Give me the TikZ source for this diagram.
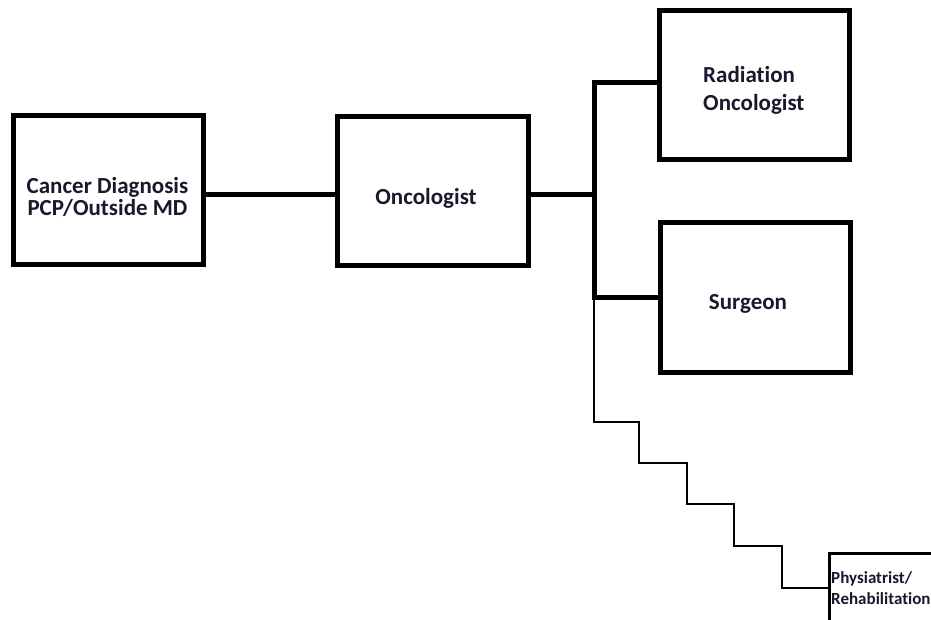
\documentclass[tikz,border=0pt]{standalone}
\usepackage{fontspec}
\setmainfont{Carlito}[Ligatures={NoCommon}]
\definecolor{txt}{RGB}{25,25,45}
\begin{document}
\begin{tikzpicture}[x=1pt,y=-1pt,
  box/.style={draw=black, line width=5pt, inner sep=0pt, outer sep=0pt, rectangle},
  smallbox/.style={draw=black, line width=3pt, inner sep=0pt, outer sep=0pt, rectangle},
  thickconn/.style={draw=black, line width=5pt, line join=miter},
  thinconn/.style={draw=black, line width=2.5pt, line join=miter},
  lbl/.style={font=\bfseries\fontsize{23}{22}\selectfont, text=txt, inner sep=0pt},
  smalllbl/.style={font=\bfseries\fontsize{17}{21}\selectfont, text=txt, inner sep=0pt, align=left},
]
\useasboundingbox (0,0) rectangle (931,620);
\fill[white] (0,0) rectangle (931,620);
\clip (0,0) rectangle (931,620);

% boxes
\node[box, minimum width=189.5pt, minimum height=148.5pt] (A) at (108.25,190.25) {};
\node[box, minimum width=191pt, minimum height=148.5pt] (B) at (432.5,191.25) {};
\node[box, minimum width=190pt, minimum height=149pt] (R) at (754,85.5) {};
\node[box, minimum width=190.5pt, minimum height=149.5pt] (S) at (755.25,297.75) {};
\node[smallbox, minimum width=130pt, minimum height=100pt, anchor=north west] (P) at (829.5,553) {};

% labels
\node[lbl, align=center] (Atext) at (107.5,196.5) {Cancer Diagnosis\\PCP/Outside MD};
\node[lbl] (Btext) at (426,198.5) {Oncologist};
\node[lbl, align=left, font=\bfseries\fontsize{23}{28}\selectfont, anchor=west] (Rtext) at (703,90.5) {Radiation\\Oncologist};
\node[lbl] (Stext) at (748,304) {Surgeon};
\node[smalllbl, anchor=north west] (Ptext) at (831,571) {Physiatrist/\\Rehabilitation};

% junction coordinates
\coordinate (mid) at (594,195);
\coordinate (top) at (594,83);
\coordinate (bot) at (594,297);
\coordinate (s1) at (639,422);
\coordinate (s2) at (687,463);
\coordinate (s3) at (734,504);
\coordinate (s4) at (782,546);
\coordinate (s5) at (0,588);

% connectors
\draw[thickconn] (A.east |- mid) -- (B.west |- mid);
\draw[thickconn] (B.east |- mid) -- (mid);
\draw[thickconn] (R.west |- top) -- (top) -- (bot) -- (S.west |- bot);
\draw[thinconn] (bot) |- (s1) |- (s2) |- (s3) |- (s4) |- (P.west |- s5);
\end{tikzpicture}
\end{document}
